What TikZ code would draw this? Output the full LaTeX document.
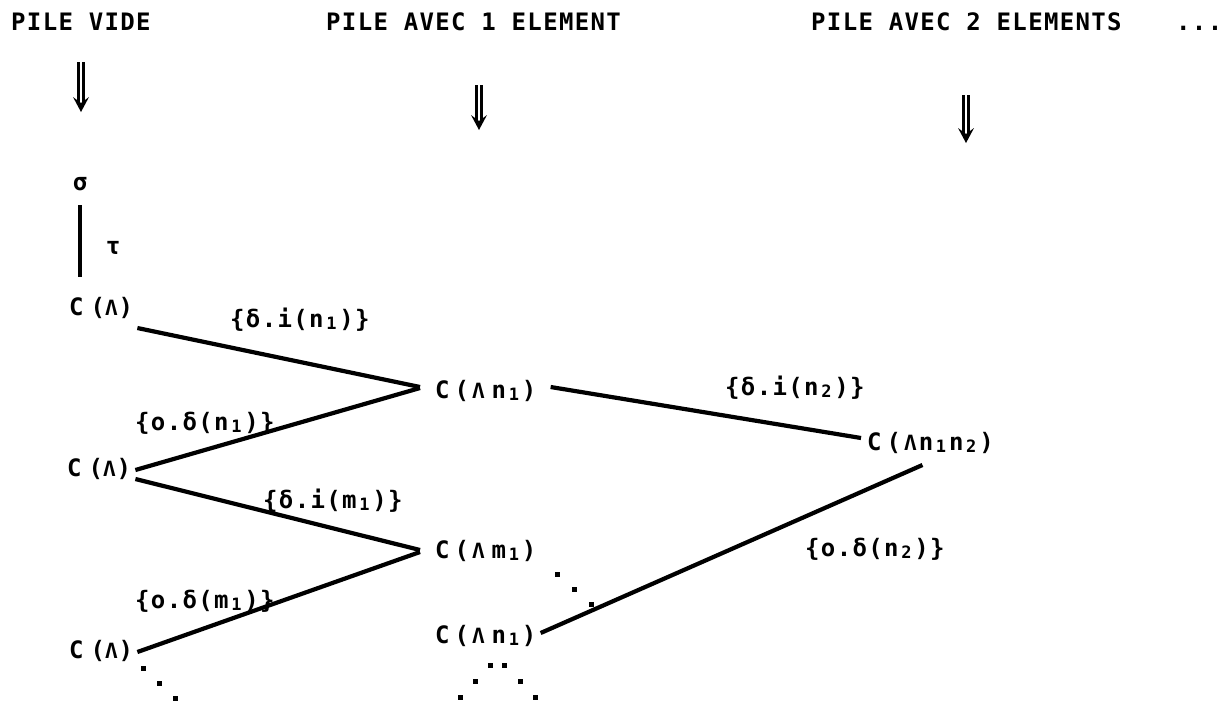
\documentclass[tikz,border=0pt]{standalone}
\usepackage{fontspec}
\newfontfamily\tw[LetterSpace=5.6]{DejaVu Sans Mono}
\usetikzlibrary{calc}
% capital lambda at lower-case height, lowered subscript digit in a full slot
\newcommand\Lm{{\fontsize{21}{21}\selectfont Λ}}
\newcommand\subd[1]{\makebox[15.8pt][c]{\raisebox{-2.5pt}{\fontsize{17}{17}\selectfont #1}}}
% typewritten double arrow pointing down: #1 top, #2 tip
\newcommand\dblarrow[2]{%
  \draw[shaft] ($(#1)+(-2.6,0)$) -- ($(#2)+(-2.6,-8)$);
  \draw[shaft] ($(#1)+(2.6,0)$) -- ($(#2)+(2.6,-8)$);
  \fill ($(#2)+(-8,-15)$) -- (#2) -- ($(#2)+(8,-15)$) -- ($(#2)+(0,-9)$) -- cycle;}
\begin{document}
\begin{tikzpicture}[x=1pt,y=-1pt,
  every node/.style={font=\tw\bfseries\fontsize{24}{28}\selectfont, inner sep=0pt, anchor=base west},
  edge/.style={line width=4.2pt},
  shaft/.style={line width=2.4pt},
  dot/.style={fill=black}]
\useasboundingbox (0,0) rectangle (1225,705);
\fill[white] (0,0) rectangle (1225,705);

% column headings
\node (h1) at (11,30.5) {PILE VIDE};
\node (h2) at (326,30.5) {PILE AVEC 1 ELEMENT};
\node (h3) at (811,30.5) {PILE AVEC 2 ELEMENTS};
\node (h4) at (1176,30.5) {...};

\coordinate (a1s) at (81,62);  \coordinate (a1e) at (81,112);
\coordinate (a2s) at (479,85); \coordinate (a2e) at (479,130);
\coordinate (a3s) at (966,95); \coordinate (a3e) at (966,143);
\dblarrow{a1s}{a1e}
\dblarrow{a2s}{a2e}
\dblarrow{a3s}{a3e}

% states
\node[anchor=base] (sg) at (80,190) {σ};
\node[anchor=base] (ta) at (113,254) {τ};
\node (c1) at (69,315) {C\kern7pt(\Lm\kern1pt)};
\node (c2) at (67,476) {C\kern7pt(\Lm\kern1pt)};
\node (c3) at (69,658) {C\kern7pt(\Lm\kern1pt)};
\node (cn1) at (435,398) {C\kern5pt(\kern3pt\Lm\kern7pt n\subd{1})};
\node (cm1) at (435,558) {C\kern5pt(\kern3pt\Lm\kern7pt m\subd{1})};
\node (cn1b) at (435,643) {C\kern5pt(\kern3pt\Lm\kern7pt n\subd{1})};
\node (cn12) at (867,450) {C\kern5pt(\kern3pt\Lm\kern2pt n\subd{1}n\subd{2})};

% transition labels
\node (l1) at (230,327) {\{δ.i(n\subd{1})\}};
\node (l2) at (135,430) {\{o.δ(n\subd{1})\}};
\node (l3) at (263,508) {\{δ.i(m\subd{1})\}};
\node (l4) at (135,608) {\{o.δ(m\subd{1})\}};
\node (l5) at (725,395) {\{δ.i(n\subd{2})\}};
\node (l6) at (805,556) {\{o.δ(n\subd{2})\}};

% transitions
\draw[edge] ([yshift=-15]sg.base) -- ([shift={(11,-38)}]c1.base west);
\draw[edge] ([shift={(4,13)}]c1.base east) -- ([shift={(-15,-11)}]cn1.base west);
\draw[edge] ([shift={(4,-6)}]c2.base east) -- ([shift={(-15,-10)}]cn1.base west);
\draw[edge] ([shift={(4,3)}]c2.base east) -- ([shift={(-15,-8)}]cm1.base west);
\draw[edge] ([shift={(4,-6)}]c3.base east) -- ([shift={(-15,-6)}]cm1.base west);
\draw[edge] ([shift={(14,-11)}]cn1.base east) -- ([shift={(-6,-12)}]cn12.base west);
\draw[edge] ([shift={(4,-10)}]cn1b.base east) -- ([shift={(-8,15)}]cn12.base);

% continuation dots
\foreach \p in {(557,574),(574,589),(591,604),
                (143,668),(159,683),(175,698),
                (490,665),(504,665),(475,681),(520,681),(460,697),(535,697)}
  \fill[dot] \p ++(-2.5,-2.5) rectangle ++(5,5);
\end{tikzpicture}
\end{document}
